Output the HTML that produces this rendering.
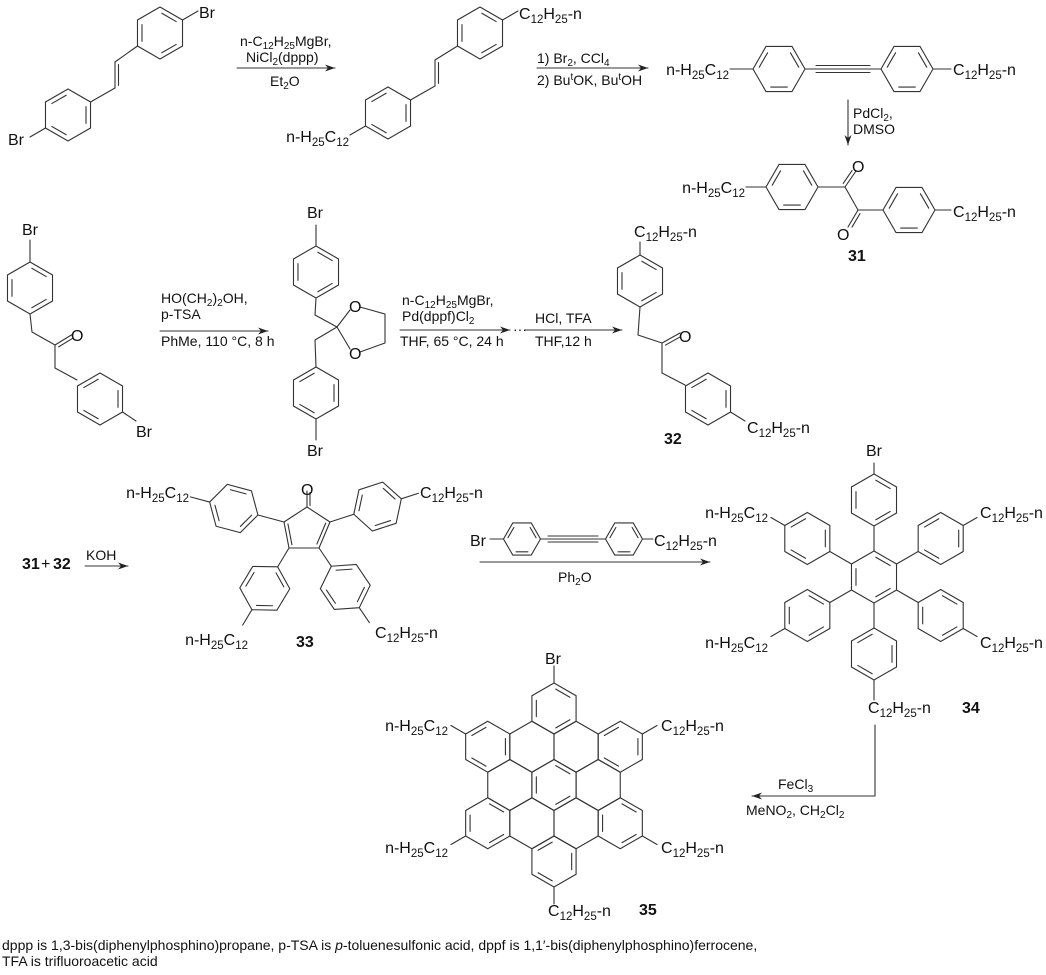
<!DOCTYPE html>
<html><head><meta charset="utf-8">
<style>
html,body{margin:0;padding:0;background:#fff;}
svg{display:block;}
text{font-family:"Liberation Sans",Arial,sans-serif;font-size:16px;fill:#111;}
.r{font-size:14px;}
.r .s{font-size:10px;}
.b{font-weight:bold;}
.s{font-size:11.5px;}
.f{font-size:14px;}
</style></head>
<body>
<svg id="g" width="1046" height="975" viewBox="0 0 1046 975" xmlns="http://www.w3.org/2000/svg">
<g id="L" stroke="#333" stroke-width="1.1" fill="none" stroke-linecap="round"></g>
<g id="T">
<!-- Row 1 -->
<text x="199" y="18">Br</text>
<text x="8" y="145">Br</text>
<text class="r" x="240" y="46">n-C<tspan class="s" dy="3">12</tspan><tspan dy="-3">H</tspan><tspan class="s" dy="3">25</tspan><tspan dy="-3">MgBr,</tspan></text>
<text class="r" x="246" y="62">NiCl<tspan class="s" dy="3">2</tspan><tspan dy="-3">(dppp)</tspan></text>
<text class="r" x="270" y="86">Et<tspan class="s" dy="3">2</tspan><tspan dy="-3">O</tspan></text>
<text x="519" y="19">C<tspan class="s" dy="4">12</tspan><tspan dy="-4">H</tspan><tspan class="s" dy="4">25</tspan><tspan dy="-4">-n</tspan></text>
<text x="349" y="142" text-anchor="end">n-H<tspan class="s" dy="4">25</tspan><tspan dy="-4">C</tspan><tspan class="s" dy="4">12</tspan></text>
<text class="r" x="537" y="63">1) Br<tspan class="s" dy="3">2</tspan><tspan dy="-3">, CCl</tspan><tspan class="s" dy="3">4</tspan></text>
<text class="r" x="537" y="85">2) Bu<tspan class="s" dy="-5">t</tspan><tspan dy="5">OK, Bu</tspan><tspan class="s" dy="-5">t</tspan><tspan dy="5">OH</tspan></text>
<text x="729" y="75" text-anchor="end">n-H<tspan class="s" dy="4">25</tspan><tspan dy="-4">C</tspan><tspan class="s" dy="4">12</tspan></text>
<text x="953" y="75">C<tspan class="s" dy="4">12</tspan><tspan dy="-4">H</tspan><tspan class="s" dy="4">25</tspan><tspan dy="-4">-n</tspan></text>
<text class="r" x="853" y="118">PdCl<tspan class="s" dy="3">2</tspan><tspan dy="-3">,</tspan></text>
<text class="r" x="853" y="134">DMSO</text>
<text x="745" y="193" text-anchor="end">n-H<tspan class="s" dy="4">25</tspan><tspan dy="-4">C</tspan><tspan class="s" dy="4">12</tspan></text>
<text x="953" y="217">C<tspan class="s" dy="4">12</tspan><tspan dy="-4">H</tspan><tspan class="s" dy="4">25</tspan><tspan dy="-4">-n</tspan></text>
<text x="852" y="172">O</text>
<text x="837" y="240">O</text>
<text x="848" y="261" class="b">31</text>
<!-- Row 2 -->
<text x="22" y="235">Br</text>
<text x="71" y="341">O</text>
<text x="136" y="437">Br</text>
<text class="r" x="161" y="303">HO(CH<tspan class="s" dy="3">2</tspan><tspan dy="-3">)</tspan><tspan class="s" dy="3">2</tspan><tspan dy="-3">OH,</tspan></text>
<text class="r" x="161" y="319">p-TSA</text>
<text class="r" x="161" y="346">PhMe, 110 °C, 8 h</text>
<text x="307" y="218">Br</text>
<text x="349" y="312">O</text>
<text x="349" y="359">O</text>
<text x="307" y="456">Br</text>
<text class="r" x="402" y="305">n-C<tspan class="s" dy="3">12</tspan><tspan dy="-3">H</tspan><tspan class="s" dy="3">25</tspan><tspan dy="-3">MgBr,</tspan></text>
<text class="r" x="402" y="321">Pd(dppf)Cl<tspan class="s" dy="3">2</tspan></text>
<text class="r" x="400" y="346">THF, 65 °C, 24 h</text>
<text class="r" x="513" y="334">···</text>
<text class="r" x="535" y="323">HCl, TFA</text>
<text class="r" x="535" y="346">THF,12 h</text>
<text x="634" y="237">C<tspan class="s" dy="4">12</tspan><tspan dy="-4">H</tspan><tspan class="s" dy="4">25</tspan><tspan dy="-4">-n</tspan></text>
<text x="679" y="342">O</text>
<text x="747" y="433">C<tspan class="s" dy="4">12</tspan><tspan dy="-4">H</tspan><tspan class="s" dy="4">25</tspan><tspan dy="-4">-n</tspan></text>
<text x="664" y="444" class="b">32</text>
<!-- Row 3 -->
<text x="22" y="569" class="b">31</text>
<text x="41" y="569">+</text>
<text x="53" y="569" class="b">32</text>
<text class="r" x="86" y="560">KOH</text>
<text x="189" y="498" text-anchor="end">n-H<tspan class="s" dy="4">25</tspan><tspan dy="-4">C</tspan><tspan class="s" dy="4">12</tspan></text>
<text x="301" y="495">O</text>
<text x="420" y="498">C<tspan class="s" dy="4">12</tspan><tspan dy="-4">H</tspan><tspan class="s" dy="4">25</tspan><tspan dy="-4">-n</tspan></text>
<text x="248" y="645" text-anchor="end">n-H<tspan class="s" dy="4">25</tspan><tspan dy="-4">C</tspan><tspan class="s" dy="4">12</tspan></text>
<text x="296" y="647" class="b">33</text>
<text x="375" y="638">C<tspan class="s" dy="4">12</tspan><tspan dy="-4">H</tspan><tspan class="s" dy="4">25</tspan><tspan dy="-4">-n</tspan></text>
<text x="470" y="546">Br</text>
<text x="654" y="546">C<tspan class="s" dy="4">12</tspan><tspan dy="-4">H</tspan><tspan class="s" dy="4">25</tspan><tspan dy="-4">-n</tspan></text>
<text class="r" x="558" y="582">Ph<tspan class="s" dy="3">2</tspan><tspan dy="-3">O</tspan></text>
<text x="866" y="456">Br</text>
<text x="768" y="518" text-anchor="end">n-H<tspan class="s" dy="4">25</tspan><tspan dy="-4">C</tspan><tspan class="s" dy="4">12</tspan></text>
<text x="980" y="518">C<tspan class="s" dy="4">12</tspan><tspan dy="-4">H</tspan><tspan class="s" dy="4">25</tspan><tspan dy="-4">-n</tspan></text>
<text x="768" y="648" text-anchor="end">n-H<tspan class="s" dy="4">25</tspan><tspan dy="-4">C</tspan><tspan class="s" dy="4">12</tspan></text>
<text x="980" y="648">C<tspan class="s" dy="4">12</tspan><tspan dy="-4">H</tspan><tspan class="s" dy="4">25</tspan><tspan dy="-4">-n</tspan></text>
<text x="868" y="713">C<tspan class="s" dy="4">12</tspan><tspan dy="-4">H</tspan><tspan class="s" dy="4">25</tspan><tspan dy="-4">-n</tspan></text>
<text x="962" y="713" class="b">34</text>
<text class="r" x="778" y="789">FeCl<tspan class="s" dy="3">3</tspan></text>
<text class="r" x="746" y="815">MeNO<tspan class="s" dy="3">2</tspan><tspan dy="-3">, CH</tspan><tspan class="s" dy="3">2</tspan><tspan dy="-3">Cl</tspan><tspan class="s" dy="3">2</tspan></text>
<!-- 35 -->
<text x="545" y="664">Br</text>
<text x="448" y="731" text-anchor="end">n-H<tspan class="s" dy="4">25</tspan><tspan dy="-4">C</tspan><tspan class="s" dy="4">12</tspan></text>
<text x="661" y="731">C<tspan class="s" dy="4">12</tspan><tspan dy="-4">H</tspan><tspan class="s" dy="4">25</tspan><tspan dy="-4">-n</tspan></text>
<text x="448" y="853" text-anchor="end">n-H<tspan class="s" dy="4">25</tspan><tspan dy="-4">C</tspan><tspan class="s" dy="4">12</tspan></text>
<text x="661" y="853">C<tspan class="s" dy="4">12</tspan><tspan dy="-4">H</tspan><tspan class="s" dy="4">25</tspan><tspan dy="-4">-n</tspan></text>
<text x="548" y="916">C<tspan class="s" dy="4">12</tspan><tspan dy="-4">H</tspan><tspan class="s" dy="4">25</tspan><tspan dy="-4">-n</tspan></text>
<text x="639" y="915" class="b">35</text>
<!-- footnote -->
<text class="f" x="2" y="950">dppp is 1,3-bis(diphenylphosphino)propane, p-TSA is <tspan font-style="italic">p</tspan>-toluenesulfonic acid, dppf is 1,1′-bis(diphenylphosphino)ferrocene,</text>
<text class="f" x="2" y="966">TFA is trifluoroacetic acid</text>
</g>
</svg>
<script>
(function(){
var NS="http://www.w3.org/2000/svg",L=document.getElementById("L");
function ln(x1,y1,x2,y2,w){var e=document.createElementNS(NS,"line");e.setAttribute("x1",x1);e.setAttribute("y1",y1);e.setAttribute("x2",x2);e.setAttribute("y2",y2);if(w)e.setAttribute("stroke-width",w);L.appendChild(e);}
function pl(pts){var e=document.createElementNS(NS,"polyline");e.setAttribute("points",pts.map(function(p){return p[0]+","+p[1]}).join(" "));L.appendChild(e);}
function arrow(x1,y1,x2,y2){ln(x1,y1,x2,y2);var a=Math.atan2(y2-y1,x2-x1),h=10,w=3.5;
 var e=document.createElementNS(NS,"polygon");
 var bx=x2-h*Math.cos(a),by=y2-h*Math.sin(a);
 e.setAttribute("points",x2+","+y2+" "+(bx+w*Math.sin(a))+","+(by-w*Math.cos(a))+" "+(x2-0.7*h*Math.cos(a))+","+(y2-0.7*h*Math.sin(a))+" "+(bx-w*Math.sin(a))+","+(by+w*Math.cos(a)));
 e.setAttribute("fill","#222");e.setAttribute("stroke","none");L.appendChild(e);}
function dbl(x1,y1,x2,y2,side,off){off=off||3.5;var dx=x2-x1,dy=y2-y1,l=Math.hypot(dx,dy),nx=-dy/l*off*side,ny=dx/l*off*side;ln(x1,y1,x2,y2);
 var sh=0.1;ln(x1+nx+dx*sh,y1+ny+dy*sh,x2+nx-dx*sh,y2+ny-dy*sh);}
function ring(cx,cy,s,a0,ed){var v=[];for(var k=0;k<6;k++){var a=(a0+60*k)*Math.PI/180;v.push([cx+s*Math.cos(a),cy+s*Math.sin(a)]);}
 pl(v.concat([v[0]]));ed=ed||[0,2,4];
 ed.forEach(function(k){var p=v[k],q=v[(k+1)%6],f=0.8;var p2=[cx+(p[0]-cx)*f,cy+(p[1]-cy)*f],q2=[cx+(q[0]-cx)*f,cy+(q[1]-cy)*f];
  var dx=q2[0]-p2[0],dy=q2[1]-p2[1],t=0.1;ln(p2[0]+dx*t,p2[1]+dy*t,q2[0]-dx*t,q2[1]-dy*t);});
 return v;}
var P=-90;
ring(160,33,26,P,[0,2,4]);ln(182.5,20,198,11);
ring(68,115,26,P,[1,3,5]);ln(45.5,128,30,137);
ln(137.5,46,115,62);dbl(115,62,115,88,-1);ln(115,88,90.5,102);
arrow(237,68,335,68);
ring(480,33,26,P,[0,2,4]);ln(502.5,20,518,11);
ring(388,113,26,P,[1,3,5]);ln(365.5,126,350,135);
ln(457.5,46,435,60);dbl(435,60,435,86,-1);ln(435,86,410.5,100);
arrow(537,68,648,68);
ring(779,69,26,0,[1,3,5]);ring(907,69,26,0,[1,3,5]);
ln(805,69,881,69);ln(816,65.5,870,65.5);ln(816,72.5,870,72.5);
ln(730,69,753,69);ln(933,69,951,69);
arrow(848,100,848,145);
ring(792,187,26,0,[1,3,5]);ln(746,187,766,187);
ln(818,187,845,187);dbl(845,187,856,171,-1);ln(845,187,858,210);dbl(858,210,848,227,-1);ln(858,210,883,210);
ring(909,210,26,0,[1,3,5]);ln(935,210,951,210);
ring(30,288,26,P,[0,2,4]);ln(30,262,30,240);
ln(30,314,32,332);ln(32,332,55,345);dbl(55,345,73,334,1);ln(55,345,55,368);ln(55,368,77,380);
ring(100,399,26,P,[1,3,5]);ln(122.5,412,136,421);
arrow(160,331,268,331);
ring(316,272,26,P,[0,2,4]);ln(316,246,316,225);
ln(316,298,315,315);ln(315,315,337,327);ln(337,327,350,310);ln(360,307,385,314);ln(385,314,385,343);ln(385,343,360,352);ln(350,349,337,327);
ln(337,327,315,340);ln(315,340,316,367);
ring(316,393,26,P,[1,3,5]);ln(316,419,316,440);
arrow(400,330,510,330);arrow(525,330,622,330);
ring(640,281,26,P,[0,2,4]);ln(640,255,640,242);
ln(640,307,638,335);ln(638,335,662,343);dbl(662,343,680,333,1);ln(662,343,662,373);ln(662,373,685,385);
ring(708,399,26,P,[1,3,5]);ln(730.5,412,745,421);
arrow(85,566,128,566);
var C1=[307,507],C2=[330,522],C3=[319,548],C4=[289,548],C5=[284,522];
ln(C1[0],C1[1],C2[0],C2[1]);dbl(C2[0],C2[1],C3[0],C3[1],1);ln(C3[0],C3[1],C4[0],C4[1]);dbl(C4[0],C4[1],C5[0],C5[1],1);ln(C5[0],C5[1],C1[0],C1[1]);
dbl(C1[0],C1[1],307,491,1,3);
function ph(ax,ay,deg,s,bl,ed){var a=deg*Math.PI/180,c=Math.cos(a),sn=Math.sin(a);
 var vx=ax+bl*c,vy=ay+bl*sn;ln(ax,ay,vx,vy);var cx=vx+s*c,cy=vy+s*sn;ring(cx,cy,s,deg+180,ed||[0,2,4]);
 return [cx+s*c,cy+s*sn,c,sn];}
var e;
e=ph(284,522,195,25,27);ln(e[0],e[1],e[0]+20*e[2],e[1]+20*e[3]);
e=ph(330,522,-18,25,25);ln(e[0],e[1],e[0]+18*e[2],e[1]+18*e[3]);
e=ph(289,548,121,25,22);ln(e[0],e[1],e[0]+18*e[2],e[1]+18*e[3]);
e=ph(319,548,56,25,22);ln(e[0],e[1],e[0]+18*e[2],e[1]+18*e[3]);
ring(522,539,18.5,0,[1,3,5]);ring(624,539,18.5,0,[1,3,5]);
ln(540.5,539,605.5,539);ln(548,536,598,536);ln(548,542,598,542);
ln(490,539,503.5,539);ln(642.5,539,653,539);
arrow(480,562,710,562);
ring(874,577,26,P,[0,2,4]);
var R=77,s=26;
for(var k=0;k<6;k++){var a=(-90+60*k)*Math.PI/180;var cx=874+R*Math.cos(a),cy=577+R*Math.sin(a);
 ring(cx,cy,s,P,(k%2)?[1,3,5]:[0,2,4]);
 ln(874+s*Math.cos(a),577+s*Math.sin(a),cx-s*Math.cos(a),cy-s*Math.sin(a));
 var ox=cx+s*Math.cos(a),oy=cy+s*Math.sin(a),L2=k==0?11:(k==3?20:16);ln(ox,oy,ox+L2*Math.cos(a),oy+L2*Math.sin(a));}
ln(875,725,875,796);arrow(875,796,752,796);
var hx=554,hy=785,hs=25.5;
ring(hx,hy,hs,P,[0,2,4]);
for(var k=0;k<6;k++){var a=(60*k)*Math.PI/180;ring(hx+hs*Math.sqrt(3)*Math.cos(a),hy+hs*Math.sqrt(3)*Math.sin(a),hs,P,[]);}
for(var k=0;k<6;k++){var a=(-90+60*k)*Math.PI/180;var cx=hx+3*hs*Math.cos(a),cy=hy+3*hs*Math.sin(a);
 ring(cx,cy,hs,P,(k%2)?[1,3,5]:[0,2,4]);
 var ox=cx+hs*Math.cos(a),oy=cy+hs*Math.sin(a);ln(ox,oy,ox+17*Math.cos(a),oy+17*Math.sin(a));}
})();
</script>
</body></html>
